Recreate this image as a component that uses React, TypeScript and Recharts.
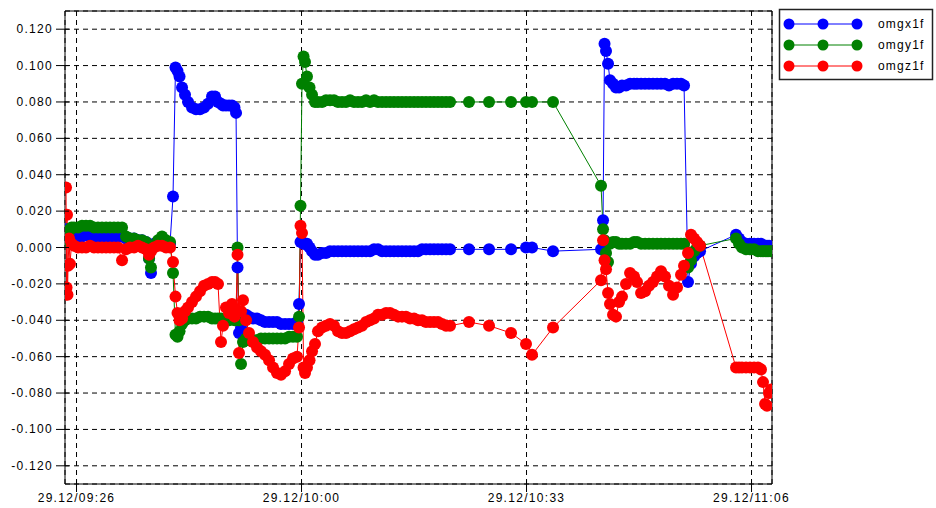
import React from 'react';
import { LineChart, Line, XAxis, YAxis, CartesianGrid, ReferenceArea, Legend } from 'recharts';

// time in minutes after 09:00 on 29.12
const timeMin = [
  25.11, 25.19, 25.26, 25.33, 25.41, 25.56, 25.70, 25.93, 26.30, 26.89,
  27.48, 28.07, 28.67, 29.26, 29.85, 30.44, 31.04, 31.63, 32.22, 32.81,
  33.41, 34.00, 34.59, 35.19, 35.78, 36.37, 36.96, 37.41, 37.70, 38.15,
  38.74, 39.33, 39.93, 40.52, 40.96, 41.33, 41.63, 41.93, 42.30, 42.74,
  43.19, 43.78, 44.37, 44.96, 45.56, 46.15, 46.74, 47.19, 47.63, 48.07,
  48.37, 48.81, 49.26, 49.70, 50.07, 50.30, 50.52, 50.74, 51.04, 51.33,
  51.78, 52.22, 52.81, 53.41, 54.00, 54.59, 55.19, 55.78, 56.37, 56.96,
  57.56, 58.15, 58.74, 59.33, 59.63, 59.85, 60.07, 60.30, 60.52, 60.81,
  61.19, 61.56, 62.00, 62.44, 63.04, 63.63, 64.22, 64.81, 65.41, 66.00,
  66.59, 67.19, 67.78, 68.37, 68.96, 69.56, 70.15, 70.74, 71.33, 71.93,
  72.52, 73.11, 73.70, 74.30, 74.89, 75.48, 76.07, 76.67, 77.26, 77.85,
  78.44, 79.04, 79.63, 80.22, 80.81, 81.41, 82.00, 84.81, 87.78, 91.04,
  93.26, 94.15, 97.26, 104.37, 104.67, 104.89, 105.11, 105.41, 105.70, 106.15,
  106.59, 107.04, 107.48, 108.07, 108.67, 109.26, 109.70, 110.30, 110.89, 111.48,
  112.07, 112.67, 113.26, 113.85, 114.44, 115.04, 115.63, 116.22, 116.67, 117.26,
  117.70, 118.15, 118.59, 119.04, 124.37, 124.81, 125.26, 125.85, 126.44, 127.04,
  127.63, 128.07, 128.37, 128.67, 128.96, 129.26, 129.56,
];

const omgx1f = [
  0.010, 0.009, 0.008, 0.007, 0.007, 0.007, 0.006, 0.006, 0.006, 0.006,
  0.006, 0.007, 0.006, 0.006, 0.006, 0.006, 0.006, 0.006, 0.006, 0.006,
  0.006, 0.005, 0.005, 0.005, 0.004, 0.004, 0.003, -0.006, -0.014, 0.002,
  0.002, 0.002, 0.002, 0.002, 0.028, 0.099, 0.097, 0.094, 0.088, 0.084,
  0.080, 0.077, 0.076, 0.076, 0.077, 0.079, 0.083, 0.083, 0.080, 0.079,
  0.078, 0.078, 0.078, 0.078, 0.077, 0.074, -0.011, -0.047, -0.044, -0.040,
  -0.037, -0.038, -0.039, -0.039, -0.040, -0.041, -0.041, -0.041, -0.041, -0.042,
  -0.042, -0.042, -0.042, -0.041, -0.031, 0.003, 0.003, 0.002, 0.002, 0.002,
  0.000, -0.002, -0.004, -0.004, -0.003, -0.003, -0.002, -0.002, -0.002, -0.002,
  -0.002, -0.002, -0.002, -0.002, -0.002, -0.002, -0.002, -0.001, -0.001, -0.002,
  -0.002, -0.002, -0.002, -0.002, -0.002, -0.002, -0.002, -0.002, -0.002, -0.001,
  -0.001, -0.001, -0.001, -0.001, -0.001, -0.001, -0.001, -0.001, -0.001, -0.001,
  0.000, 0.000, -0.002, -0.001, 0.015, 0.112, 0.108, 0.101, 0.092, 0.090,
  0.088, 0.088, 0.089, 0.089, 0.090, 0.090, 0.090, 0.090, 0.090, 0.090,
  0.090, 0.090, 0.090, 0.090, 0.089, 0.090, 0.090, 0.090, 0.089, -0.019,
  -0.009, -0.005, -0.003, -0.002, 0.007, 0.005, 0.003, 0.002, 0.002, 0.002,
  0.002, 0.002, 0.001, 0.001, 0.001, 0.001, 0.000,
];

const omgy1f = [
  0.004, 0.005, 0.006, 0.007, 0.008, 0.009, 0.010, 0.011, 0.011, 0.011,
  0.012, 0.012, 0.012, 0.011, 0.011, 0.011, 0.011, 0.011, 0.011, 0.011,
  0.011, 0.006, 0.005, 0.005, 0.004, 0.004, 0.003, -0.006, -0.011, 0.001,
  0.004, 0.006, 0.004, 0.003, -0.014, -0.048, -0.049, -0.046, -0.042, -0.040,
  -0.039, -0.039, -0.039, -0.038, -0.038, -0.038, -0.039, -0.039, -0.039, -0.039,
  -0.040, -0.040, -0.040, -0.039, -0.040, -0.040, 0.000, -0.040, -0.064, -0.052,
  -0.050, -0.051, -0.051, -0.051, -0.050, -0.050, -0.050, -0.050, -0.050, -0.050,
  -0.050, -0.049, -0.049, -0.049, -0.038, 0.023, 0.090, 0.105, 0.102, 0.094,
  0.088, 0.084, 0.080, 0.080, 0.080, 0.081, 0.081, 0.081, 0.080, 0.080,
  0.080, 0.081, 0.080, 0.080, 0.080, 0.081, 0.080, 0.081, 0.080, 0.080,
  0.080, 0.080, 0.080, 0.080, 0.080, 0.080, 0.080, 0.080, 0.080, 0.080,
  0.080, 0.080, 0.080, 0.080, 0.080, 0.080, 0.080, 0.080, 0.080, 0.080,
  0.080, 0.080, 0.080, 0.034, 0.010, 0.004, -0.003, -0.008, 0.002, 0.003,
  0.003, 0.002, 0.002, 0.002, 0.002, 0.003, 0.003, 0.002, 0.002, 0.002,
  0.002, 0.002, 0.002, 0.002, 0.002, 0.002, 0.002, 0.002, 0.002, -0.011,
  -0.007, -0.002, 0.000, 0.001, 0.005, 0.002, 0.000, -0.001, -0.001, -0.001,
  -0.002, -0.002, -0.002, -0.002, -0.002, -0.002, -0.002,
];

const omgz1f = [
  0.033, -0.022, 0.018, -0.026, -0.010, 0.005, -0.009, 0.002, 0.001, 0.000,
  0.000, 0.000, 0.001, 0.000, 0.000, 0.000, 0.000, 0.000, 0.000, 0.000,
  -0.007, -0.001, 0.000, 0.000, 0.001, 0.000, -0.001, -0.004, -0.002, 0.000,
  0.001, 0.001, 0.000, 0.000, -0.008, -0.027, -0.036, -0.040, -0.039, -0.035,
  -0.033, -0.030, -0.027, -0.024, -0.021, -0.020, -0.019, -0.019, -0.020, -0.052,
  -0.043, -0.033, -0.036, -0.031, -0.038, -0.034, -0.004, -0.058, -0.035, -0.029,
  -0.040, -0.047, -0.052, -0.055, -0.057, -0.059, -0.062, -0.066, -0.069, -0.070,
  -0.068, -0.064, -0.061, -0.060, -0.044, 0.012, 0.008, -0.066, -0.069, -0.066,
  -0.062, -0.057, -0.053, -0.046, -0.044, -0.043, -0.042, -0.043, -0.046, -0.047,
  -0.047, -0.046, -0.045, -0.044, -0.043, -0.041, -0.040, -0.039, -0.037, -0.037,
  -0.036, -0.036, -0.037, -0.038, -0.038, -0.038, -0.039, -0.039, -0.040, -0.040,
  -0.041, -0.041, -0.041, -0.041, -0.042, -0.043, -0.043, -0.041, -0.043, -0.047,
  -0.053, -0.059, -0.044, -0.018, 0.004, -0.007, -0.012, -0.025, -0.031, -0.037,
  -0.038, -0.030, -0.027, -0.020, -0.014, -0.016, -0.019, -0.025, -0.024, -0.021,
  -0.019, -0.016, -0.013, -0.016, -0.021, -0.026, -0.022, -0.015, -0.010, -0.003,
  0.007, 0.005, 0.003, 0.001, -0.066, -0.066, -0.066, -0.066, -0.066, -0.066,
  -0.066, -0.067, -0.074, -0.086, -0.087, -0.080, -0.078,
];

const seriesKeys = ['omgx1f', 'omgy1f', 'omgz1f'];
const seriesColors = ['#0000ff', '#008000', '#ff0000'];

const xTickValues = [26.667, 60, 93.333, 126.667];
const xTickLabels = ['29.12/09:26', '29.12/10:00', '29.12/10:33', '29.12/11:06'];
const yTickValues = [-0.12, -0.1, -0.08, -0.06, -0.04, -0.02, 0, 0.02, 0.04, 0.06, 0.08, 0.1, 0.12];
const yTickLabels = ['-0.120', '-0.100', '-0.080', '-0.060', '-0.040', '-0.020', '0.000', '0.020', '0.040', '0.060', '0.080', '0.100', '0.120'];

const X_DOMAIN: [number, number] = [24.96, 129.7];
const Y_DOMAIN: [number, number] = [-0.13, 0.13];

const data = timeMin.map((t, i) => ({
  t,
  omgx1f: omgx1f[i],
  omgy1f: omgy1f[i],
  omgz1f: omgz1f[i],
}));

const FONT = '"Liberation Sans", Arial, sans-serif';

const YTick = (props: any) => {
  const { x, y, index } = props;
  return (
    <g>
      <line x1={x - 9} x2={x + 4} y1={y} y2={y} stroke="#000" strokeWidth={1} />
      <text x={x - 12} y={y + 4} textAnchor="end" fontSize={12} fontFamily={FONT} letterSpacing={1.3} fill="#000">
        {yTickLabels[index]}
      </text>
    </g>
  );
};

const XTick = (props: any) => {
  const { x, y, index } = props;
  return (
    <g>
      <line x1={x} x2={x} y1={y - 4} y2={y + 8} stroke="#000" strokeWidth={1} />
      <text x={x} y={y + 18} textAnchor="middle" fontSize={12} fontFamily={FONT} letterSpacing={1.3} fill="#000">
        {xTickLabels[index]}
      </text>
    </g>
  );
};

const LegendBox = () => (
  <svg width={156} height={74} style={{ position: 'absolute', left: 0, top: 0, overflow: 'visible' }}>
    <rect x={0.5} y={0.5} width={153} height={70} fill="#fff" stroke="#222" strokeWidth={1.5} />
    {seriesKeys.map((k, i) => {
      const cy = 15 + i * 21;
      const c = seriesColors[i];
      return (
        <g key={k}>
          <line x1={10} x2={78} y1={cy} y2={cy} stroke={c} strokeWidth={1} />
          <circle cx={10} cy={cy} r={5.5} fill={c} />
          <circle cx={44} cy={cy} r={5.5} fill={c} />
          <circle cx={78} cy={cy} r={5.5} fill={c} />
          <text x={99} y={cy + 4} fontSize={12} fontFamily={FONT} letterSpacing={1.2} fill="#000">
            {k}
          </text>
        </g>
      );
    })}
  </svg>
);

export default function App() {
  return (
    <div style={{ position: 'absolute', left: 0, top: 0, width: 936, height: 508, background: '#fff' }}>
      <LineChart
        width={936}
        height={508}
        data={data}
        margin={{ top: 11, right: 164, bottom: 4, left: 5 }}
      >
        <CartesianGrid stroke="#000" strokeDasharray="5 4" strokeWidth={1} />
        <XAxis
          dataKey="t"
          type="number"
          domain={X_DOMAIN}
          ticks={xTickValues}
          allowDataOverflow
          height={20}
          axisLine={false}
          tickLine={false}
          tickSize={0}
          tickMargin={0}
          tick={<XTick />}
          interval={0}
        />
        <YAxis
          type="number"
          domain={Y_DOMAIN}
          ticks={yTickValues}
          allowDataOverflow
          width={60}
          axisLine={false}
          tickLine={false}
          tickSize={0}
          tickMargin={0}
          tick={<YTick />}
          interval={0}
        />
        {seriesKeys.map((k, i) => (
          <Line
            key={k}
            dataKey={k}
            type="linear"
            stroke={seriesColors[i]}
            strokeWidth={1}
            dot={{ r: 6, fill: seriesColors[i], stroke: 'none', strokeWidth: 0 }}
            activeDot={false}
            isAnimationActive={false}
          />
        ))}
        <ReferenceArea
          x1={X_DOMAIN[0]}
          x2={X_DOMAIN[1]}
          y1={Y_DOMAIN[0]}
          y2={Y_DOMAIN[1]}
          fill="none"
          stroke="#000"
          strokeWidth={1}
          ifOverflow="visible"
        />
        <Legend
          content={<LegendBox />}
          wrapperStyle={{ position: 'absolute', left: 779, top: 9, width: 0, height: 0, overflow: 'visible' }}
        />
      </LineChart>
    </div>
  );
}
